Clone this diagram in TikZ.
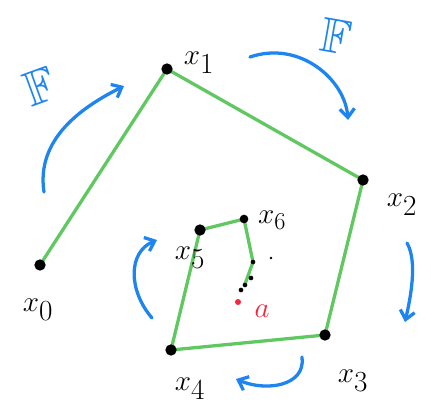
\documentclass[tikz,border=0pt]{standalone}
\usepackage{amsmath,amssymb}
\usepackage{tikz}
\usetikzlibrary{positioning,calc,arrows.meta}
\definecolor{pgreen}{RGB}{96,200,96}
\definecolor{pblue}{RGB}{30,132,240}
\definecolor{pred}{RGB}{240,40,64}
\tikzset{
  path/.style    = {pgreen, line width=2.8pt, line cap=round, line join=round},
  farr/.style    = {pblue, line width=2.8pt, line cap=round,
                    -{Straight Barb[length=2.6mm,width=4.4mm,line width=2.8pt]}},
  bdot/.style    = {circle, fill=black, inner sep=0pt, minimum size=3.4mm},
  sdot/.style    = {circle, fill=black, inner sep=0pt, minimum size=1.4mm},
  rdot/.style    = {circle, fill=pred, inner sep=0pt, minimum size=1.8mm},
  lbl/.style     = {font=\fontsize{36}{36}\selectfont, inner sep=0pt},
  flbl/.style    = {font=\fontsize{42}{42}\selectfont, text=pblue, inner sep=0pt},
}

\begin{document}
\begin{tikzpicture}[x=0.03cm,y=-0.03cm]
  \useasboundingbox (0,0) rectangle (431,417);
  % points of the orbit
  \coordinate (x0) at (40,265);
  \coordinate (x1) at (167,69);
  \coordinate (x2) at (363,180);
  \coordinate (x3) at (325,335);
  \coordinate (x4) at (171,350);
  \coordinate (x5) at (200,230);
  \coordinate (x6) at (244,219);
  \coordinate (t1) at (253,262);
  \coordinate (t2) at (245,284);
  % green path
  \draw[path] (x0) -- (x1) -- (x2) -- (x3) -- (x4) -- (x5) -- (x6) -- (t1) -- (t2);
  \node[bdot] (p0) at (x0) {};
  \node[bdot] (p1) at (x1) {};
  \node[bdot] (p2) at (x2) {};
  \node[bdot] (p3) at (x3) {};
  \node[bdot] (p4) at (x4) {};
  \node[bdot] (p5) at (x5) {};
  \node[bdot,minimum size=2.6mm] (p6) at (x6) {};
  \node[sdot] (d1) at (t1) {};
  \node[sdot] (d2) at (251,278) {};
  \node[sdot] (d3) at (245,285) {};
  \node[sdot] (d4) at (241,290) {};
  \node[circle,fill=black,inner sep=0pt,minimum size=0.8mm] (d5) at (271,258) {};
  \node[rdot] (a) at (238,302) {};
  % labels
  \node[lbl] (l0) at (38,310) {$x_0$};
  \node[lbl] (l1) at (199,63) {$x_1$};
  \node[lbl] (l2) at (402,205) {$x_2$};
  \node[lbl] (l3) at (353,381) {$x_3$};
  \node[lbl] (l4) at (190,389) {$x_4$};
  \node[lbl] (l5) at (190,258) {$x_5$};
  \node[lbl,font=\fontsize{28}{28}\selectfont] (l6) at (272,220) {$x_6$};
  \node[lbl,text=pred] (la) at (262,311) {$a$};
  % blue arrows
  \coordinate (a1s) at (44,192);  \coordinate (a1e) at (124,86);
  \coordinate (a2s) at (250,57);  \coordinate (a2e) at (348,120);
  \coordinate (a3s) at (407,243); \coordinate (a3e) at (405,322);
  \coordinate (a4s) at (302,357); \coordinate (a4e) at (236,379);
  \coordinate (a5s) at (152,318); \coordinate (a5e) at (157,240);
  \draw[farr] (a1s) .. controls (36,140) and (80,108) .. (a1e);
  \draw[farr] (a2s) .. controls (300,40) and (345,80) .. (a2e);
  \draw[farr] (a3s) .. controls (418,262) and (410,300) .. (a3e);
  \draw[farr] (a4s) .. controls (306,386) and (266,392) .. (a4e);
  \draw[farr] (a5s) .. controls (128,290) and (128,252) .. (a5e);
  \node[flbl,rotate=20] (f1) at (40,86) {$\mathbb{F}$};
  \node[flbl,rotate=-10] (f2) at (336,36) {$\mathbb{F}$};
\end{tikzpicture}
\end{document}
